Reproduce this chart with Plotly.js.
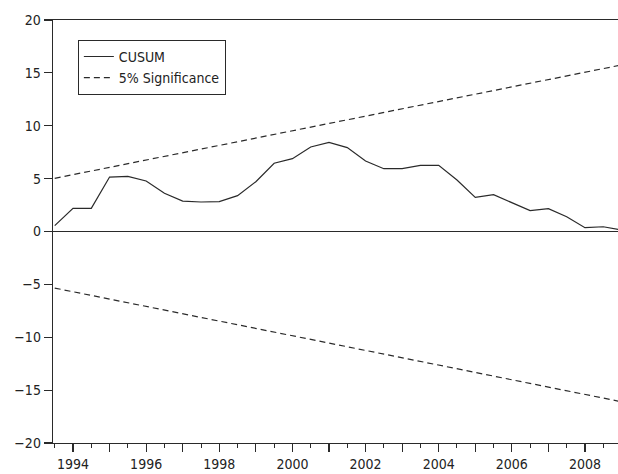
<!DOCTYPE html>
<html>
<head>
<meta charset="utf-8">
<script src="https://cdn.plot.ly/plotly-3.0.1.min.js"></script>
<style>
html,body{margin:0;padding:0;background:#fff;}
#chart{width:618px;height:474px;}
</style>
</head>
<body>
<div id="chart"></div>
<script>
// Semiannual observation dates
const dates = [1993.5,1994.0,1994.5,1995.0,1995.5,1996.0,1996.5,1997.0,1997.5,1998.0,
  1998.5,1999.0,1999.5,2000.0,2000.5,2001.0,2001.5,2002.0,2002.5,2003.0,
  2003.5,2004.0,2004.5,2005.0,2005.5,2006.0,2006.5,2007.0,2007.5,2008.0,
  2008.5,2009.0];
// CUSUM statistic
const cusum = [0.55,2.19,2.19,5.15,5.22,4.78,3.61,2.88,2.79,2.82,
  3.39,4.71,6.45,6.89,7.99,8.43,7.93,6.67,5.94,5.94,
  6.26,6.26,4.87,3.23,3.48,2.76,1.97,2.16,1.40,0.36,
  0.45,0.14];
// 5% significance bounds (start and end)
const boundDates = [1993.5, 2009.0];
const upperBound = [5.03, 15.75];
const lowerBound = [-5.35, -16.1];

const yearTicks = [1994,1995,1996,1997,1998,1999,2000,2001,2002,2003,2004,2005,2006,2007,2008];
const yearLabels = ["1994","","1996","","1998","","2000","","2002","","2004","","2006","","2008"];
const yTicks = [-20,-15,-10,-5,0,5,10,15,20];

const FONT = "DejaVu Sans Condensed, Liberation Sans Narrow, sans-serif";
const ink = '#2a2a2a';

const traces = [
  {x: dates, y: cusum, type: 'scatter', mode: 'lines', name: 'CUSUM',
   line: {color: ink, width: 1.2}},
  {x: boundDates, y: upperBound, type: 'scatter', mode: 'lines', name: '5% Significance',
   line: {color: ink, width: 1.2, dash: '6px,4px'}},
  {x: boundDates, y: lowerBound, type: 'scatter', mode: 'lines', name: '5% Significance',
   showlegend: false, line: {color: ink, width: 1.2, dash: '6px,4px'}}
];

const layout = {
  width: 618, height: 474,
  margin: {l: 53, r: 0, t: 20, b: 31},
  paper_bgcolor: '#fff', plot_bgcolor: '#fff',
  font: {family: FONT, size: 14, color: '#222'},
  showlegend: true,
  legend: {x: 0.044, y: 0.953, xanchor: 'left', yanchor: 'top',
    bordercolor: ink, borderwidth: 1, bgcolor: '#fff',
    font: {family: FONT, size: 14, color: '#222'}, tracegroupgap: 0},
  xaxis: {range: [1993.453, 2008.903], showgrid: false, zeroline: false,
    showline: true, linecolor: ink, linewidth: 1.3, mirror: true,
    tickmode: 'array', tickvals: yearTicks, ticktext: yearLabels,
    ticks: 'outside', ticklen: 8, tickwidth: 1.2, tickcolor: ink,
    minor: {dtick: 0.5, tick0: 1993.5, ticks: 'outside', ticklen: 4, tickwidth: 1, tickcolor: ink, showgrid: false},
    tickfont: {family: FONT, size: 14, color: '#222'}},
  yaxis: {range: [-20, 20], showgrid: false,
    zeroline: true, zerolinecolor: ink, zerolinewidth: 1.2,
    showline: true, linecolor: ink, linewidth: 1.3, mirror: false,
    tickmode: 'array', tickvals: yTicks,
    ticks: 'outside', ticklen: 8, tickwidth: 1.2, tickcolor: ink,
    tickfont: {family: FONT, size: 14, color: '#222'}}
};

Plotly.newPlot('chart', traces, layout, {displayModeBar: false, staticPlot: true});
</script>
</body>
</html>
